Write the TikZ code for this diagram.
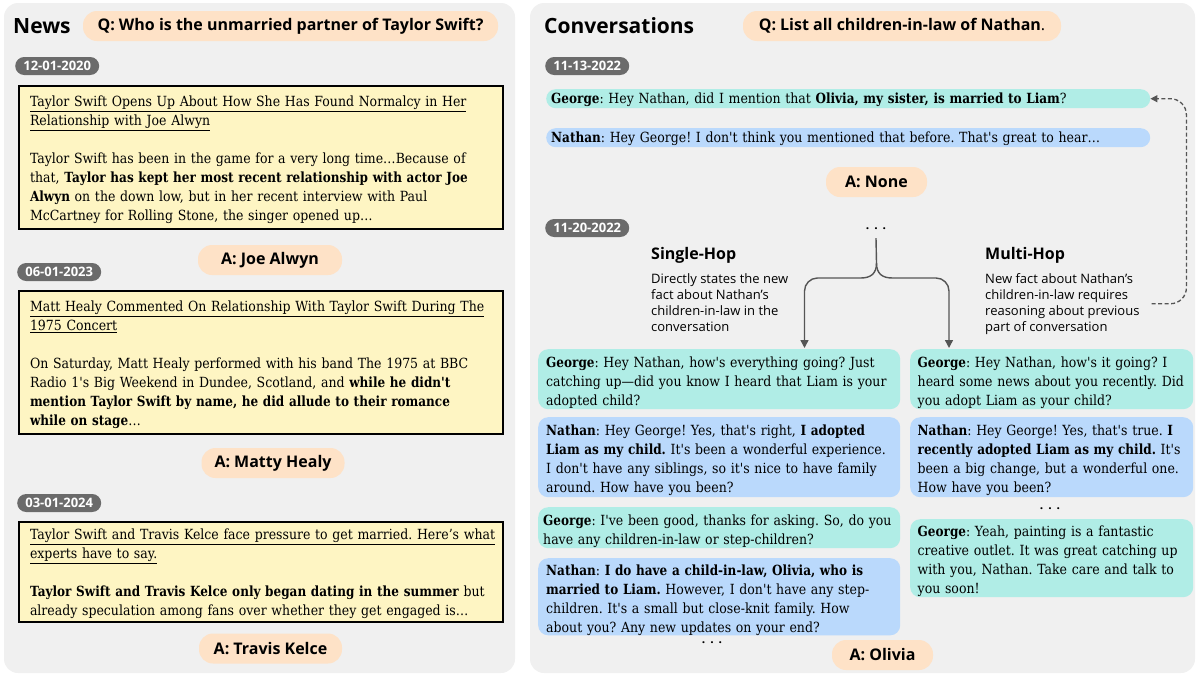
\documentclass[tikz,border=0pt]{standalone}
\usepackage{fontspec}
\usepackage{tikz}
\usetikzlibrary{positioning,arrows.meta}
\newfontfamily\headfont{Open Sans}
\newfontfamily\chatfont{DejaVu Serif}[Ligatures=TeXOff,FakeStretch=0.895,BoldFeatures={FakeStretch=0.86}]
\definecolor{panelgray}{HTML}{F0F0F0}
\definecolor{peach}{HTML}{FEE2C7}
\definecolor{dategray}{HTML}{6B6B6B}
\definecolor{newsyellow}{HTML}{FEF5C3}
\definecolor{georgeteal}{HTML}{B0EDE6}
\definecolor{nathanblue}{HTML}{BAD9FC}
\definecolor{arrowgray}{HTML}{555555}
\frenchspacing

\begin{document}
\begin{tikzpicture}[x=1pt,y=-1pt,
  panel/.style={fill=panelgray,rounded corners=14pt},
  paneltitle/.style={font=\headfont\bfseries\fontsize{21}{24}\selectfont,anchor=west,inner sep=0pt},
  pill/.style={fill=peach,rounded corners=14pt,font=\headfont\bfseries\fontsize{16}{19}\selectfont,minimum height=30pt,inner xsep=9pt,inner ysep=0pt},
  datepill/.style={fill=dategray,text=white,rounded corners=9pt,font=\headfont\bfseries\fontsize{13}{15}\selectfont,minimum height=18pt,minimum width=84pt,inner sep=0pt,anchor=west},
  article/.style={draw=black,line width=2pt,fill=newsyellow,anchor=north west,text width=462pt,inner xsep=11pt,inner ysep=0pt,align=left,font=\chatfont\fontsize{14}{19}\selectfont,execute at begin node={\rule{0pt}{15pt}}},
  bubble/.style={rounded corners=10pt,anchor=north west,inner xsep=8pt,inner ysep=0pt,align=left,font=\chatfont\fontsize{14}{19}\selectfont,execute at begin node={\rule{0pt}{17pt}}},
  george/.style={bubble,fill=georgeteal},
  nathan/.style={bubble,fill=nathanblue},
  leftcol/.style={text width=346pt},
  rightcol/.style={text width=268pt,inner xsep=7.5pt},
  wide/.style={rounded corners=9.5pt,anchor=north west,inner xsep=5pt,inner ysep=0pt,minimum height=19pt,text width=594pt,text height=13pt,align=left,font=\chatfont\fontsize{14}{19}\selectfont},
  hoptitle/.style={font=\headfont\bfseries\fontsize{16}{19}\selectfont,anchor=west,inner sep=0pt},
  hopdesc/.style={font=\headfont\fontsize{13}{16}\selectfont,anchor=north west,inner sep=0pt,align=left},
  dots/.style={font=\headfont\bfseries\fontsize{12}{12}\selectfont,inner xsep=0pt,inner ysep=8pt},
  hop/.style={draw=arrowgray,line width=1.4pt},
  back/.style={draw=arrowgray,line width=1.3pt,dash pattern=on 4pt off 2.5pt,rounded corners=16pt}]
  \useasboundingbox (0,0) rectangle (1196,675);
  \fill[panel] (4,3) rectangle (515,673);
  \fill[panel] (530,3) rectangle (1195,673);

  % news side
  \node (newstitle) [paneltitle] at (13,26) {News};
  \node (newsq) [pill,minimum width=415pt] at (290.5,26) {Q: Who is the unmarried partner of Taylor Swift?};

  \node (d1) [datepill] at (15,66) {12-01-2020};
  \node (art1) [article,minimum height=143pt] at (18,85) {%
    \underline{Taylor Swift Opens Up About How She Has Found Normalcy in Her}\\
    \underline{Relationship with Joe Alwyn}\\[19pt]
    Taylor Swift has been in the game for a very long time…Because of\\
    that, \textbf{Taylor has kept her most recent relationship with actor Joe}\\
    \textbf{Alwyn} on the down low, but in her recent interview with Paul\\
    McCartney for Rolling Stone, the singer opened up…};
  \node (a1) [pill,minimum width=144pt] at (270,260) {A: Joe Alwyn};

  \node (d2) [datepill] at (17,272) {06-01-2023};
  \node (art2) [article,minimum height=143pt] at (18,290) {%
    \underline{Matt Healy Commented On Relationship With Taylor Swift During The}\\
    \underline{1975 Concert}\\[19pt]
    On Saturday, Matt Healy performed with his band The 1975 at BBC\\
    Radio 1's Big Weekend in Dundee, Scotland, and \textbf{while he didn't}\\
    \textbf{mention Taylor Swift by name, he did allude to their romance}\\
    \textbf{while on stage}…};
  \node (a2) [pill,minimum width=143pt] at (273,463) {A: Matty Healy};

  \node (d3) [datepill] at (17,503) {03-01-2024};
  \node (art3) [article,minimum height=100pt] at (18,521) {%
    \underline{Taylor Swift and Travis Kelce face pressure to get married. Here’s what}\\
    \underline{experts have to say.}\\[19pt]
    \textbf{Taylor Swift and Travis Kelce only began dating in the summer} but\\
    already speculation among fans over whether they get engaged is…};
  \node (a3) [pill,minimum width=143pt] at (270.5,648.5) {A: Travis Kelce};

  % conversation side
  \node (convtitle) [paneltitle] at (544,26) {Conversations};
  \node (convq) [pill,minimum width=318pt] at (902,26) {Q: List all children-in-law of Nathan\mdseries.};

  \node (d4) [datepill] at (545,66) {11-13-2022};
  \node (george0) [wide,fill=georgeteal] at (546,89) {\textbf{George}: Hey Nathan, did I mention that \textbf{Olivia, my sister, is married to Liam}?};
  \node (nathan0) [wide,fill=nathanblue] at (546,128) {\textbf{Nathan}: Hey George! I don't think you mentioned that before. That's great to hear…};
  \node (anone) [pill,minimum width=101pt] at (876.5,182) {A: None};

  \node (d5) [datepill] at (545,228) {11-20-2022};
  \node (topdots) [dots] at (876,229) {.\hspace{5pt}.\hspace{5pt}.};

  \node (shtitle) [hoptitle] at (651,255) {Single-Hop};
  \node (shdesc) [hopdesc] at (651,273) {Directly states the new\\fact about Nathan’s\\children-in-law in the\\conversation};
  \node (mhtitle) [hoptitle] at (985,255) {Multi-Hop};
  \node (mhdesc) [hopdesc] at (985,273) {New fact about Nathan’s\\children-in-law requires\\reasoning about previous\\part of conversation};

  % single-hop thread
  \node (george1) [george,leftcol,minimum height=60pt] at (538,349) {\textbf{George}: Hey Nathan, how's everything going? Just\\
    catching up—did you know I heard that Liam is your\\
    adopted child?};
  \node (nathan1) [nathan,leftcol,minimum height=80pt] at (538,417) {\textbf{Nathan}: Hey George! Yes, that's right, \textbf{I adopted}\\
    \textbf{Liam as my child.} It's been a wonderful experience.\\
    I don't have any siblings, so it's nice to have family\\
    around. How have you been?};
  \node (george2) [george,leftcol,text width=352pt,inner xsep=5pt,minimum height=41pt] at (538,507) {\textbf{George}: I've been good, thanks for asking. So, do you\\
    have any children-in-law or step-children?};
  \node (nathan2) [nathan,leftcol,minimum height=76pt] at (538,558) {\textbf{Nathan}: \textbf{I do have a child-in-law, Olivia, who is}\\
    \textbf{married to Liam.} However, I don't have any step-\\
    children. It's a small but close-knit family. How\\
    about you? Any new updates on your end?};
  \node (shdots) [dots] at (712,643) {.\hspace{5pt}.\hspace{5pt}.};
  \node (aolivia) [pill,minimum width=101pt] at (882.5,655) {A: Olivia};

  % multi-hop thread
  \node (george3) [george,rightcol,minimum height=60pt] at (910,349) {\textbf{George}: Hey Nathan, how's it going? I\\
    heard some news about you recently. Did\\
    you adopt Liam as your child?};
  \node (nathan3) [nathan,rightcol,minimum height=80pt] at (910,417) {\textbf{Nathan}: Hey George! Yes, that's true. \textbf{I}\\
    \textbf{recently adopted Liam as my child.} It's\\
    been a big change, but a wonderful one.\\
    How have you been?};
  \node (mhdots) [dots] at (1050,509) {.\hspace{5pt}.\hspace{5pt}.};
  \node (george4) [george,rightcol,minimum height=78pt] at (910,519) {\textbf{George}: Yeah, painting is a fantastic\\
    creative outlet. It was great catching up\\
    with you, Nathan. Take care and talk to\\
    you soon!};

  % brace splitting into the two threads
  \coordinate (split) at (876.5,263);
  \coordinate (shtip) at (804.5,348);
  \coordinate (mhtip) at (949,348);
  \draw[hop] (topdots.south) -- (split);
  \draw[hop,-{Triangle[length=8pt,width=8pt]}] (split) .. controls +(0,11) and +(10,0) .. ++(-16,15) [rounded corners=13pt] -| (shtip);
  \draw[hop,-{Triangle[length=8pt,width=8pt]}] (split) .. controls +(0,11) and +(-10,0) .. ++(16,15) [rounded corners=13pt] -| (mhtip);

  % multi-hop refers back to the earlier fact
  \draw[back,-{Triangle[length=7pt,width=7pt]}] ([xshift=12pt]mhdesc.east) -| ([xshift=36pt]george0.east) -- (george0.east);
\end{tikzpicture}
\end{document}
